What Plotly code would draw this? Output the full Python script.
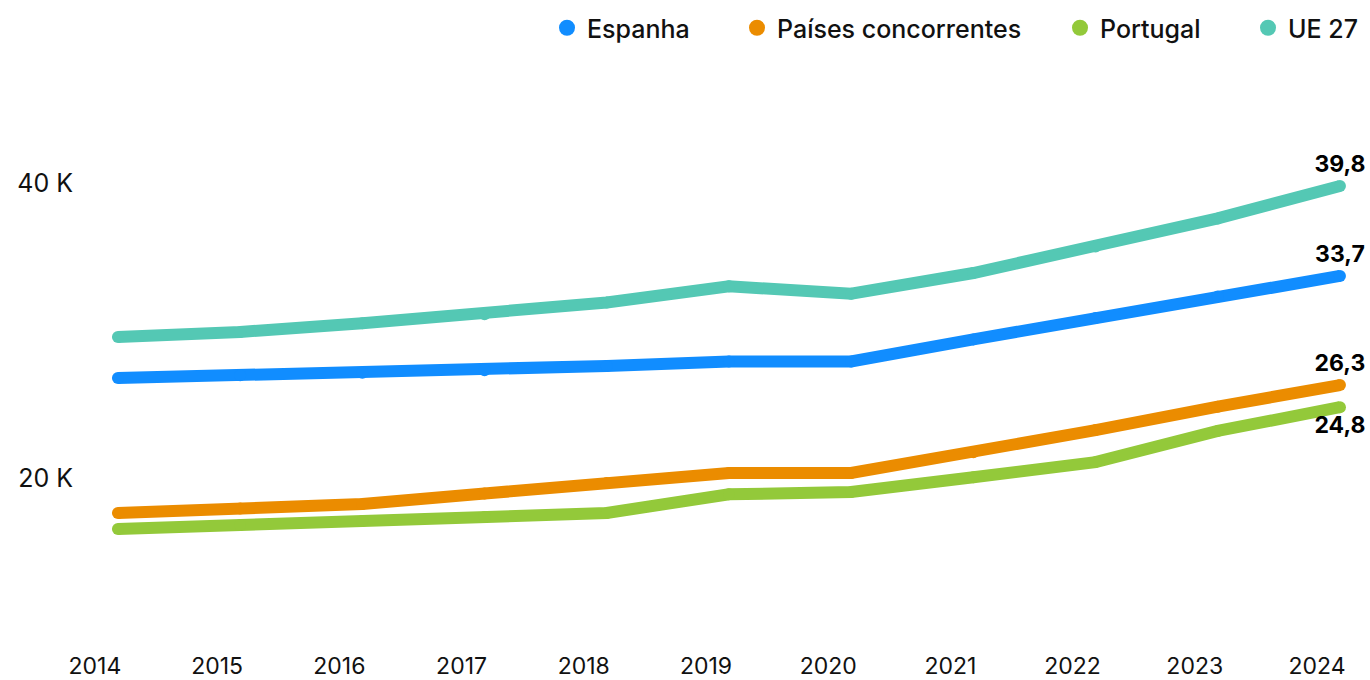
import plotly.graph_objects as go

years = [2014, 2015, 2016, 2017, 2018, 2019, 2020, 2021, 2022, 2023, 2024]

espanha = [26.78, 26.96, 27.14, 27.3, 27.6, 27.9, 27.9, 29.4, 30.85, 32.3, 33.7]
paises = [17.63, 17.93, 18.24, 18.95, 19.67, 20.34, 20.34, 21.74, 23.25, 24.84, 26.3]
portugal = [16.54, 16.81, 17.08, 17.36, 17.63, 18.9, 19.05, 20.05, 21.08, 23.19, 24.8]
ue27 = [29.56, 29.9, 30.5, 31.1, 31.9, 33.0, 32.5, 33.9, 35.7, 37.6, 39.8]

series_names = ["Espanha", "Países concorrentes", "Portugal", "UE 27"]
series_values = [espanha, paises, portugal, ue27]
series_colors = ["#118DFF", "#EB8C00", "#93C93A", "#54C8B4"]
label_positions = ["top center", "top center", "bottom center", "top center"]

y_tick_vals = [20, 40]
y_tick_text = ["20 K", "40 K"]

FONT = "Inter"
W, H = 1370, 680

fig = go.Figure()

for name, vals, col, pos in zip(series_names, series_values, series_colors, label_positions):
    texts = [""] * (len(vals) - 1) + [f"{vals[-1]:.1f}".replace(".", ",")]
    fig.add_trace(go.Scatter(
        x=years, y=vals, mode="lines+markers+text",
        line=dict(color=col, width=12),
        marker=dict(color=col, size=12),
        text=texts, textposition=pos,
        textfont=dict(family=FONT, size=23, color="#000000", weight=700),
        showlegend=False, hoverinfo="skip", cliponaxis=False,
    ))

# legend entries (dots), each in its own legend box
legend_ids = ["legend", "legend2", "legend3", "legend4"]
legend_left_px = [547, 737, 1060, 1248]
for name, col, lid in zip(series_names, series_colors, legend_ids):
    fig.add_trace(go.Scatter(
        x=[None], y=[None], mode="markers", name=name,
        marker=dict(color=col, size=20), legend=lid,
    ))

legend_common = dict(
    orientation="h", xref="container", yref="container",
    xanchor="left", y=1 - 28 / H, yanchor="middle",
    font=dict(family=FONT, size=25, color="#111111", weight=500),
    itemsizing="trace", bgcolor="rgba(0,0,0,0)", borderwidth=0,
)
legend_layout = {}
for lid, lx in zip(legend_ids, legend_left_px):
    legend_layout[lid] = dict(legend_common, x=lx / W)

fig.update_layout(
    width=W, height=H,
    margin=dict(l=100, r=10, t=60, b=40, autoexpand=False),
    paper_bgcolor="white", plot_bgcolor="white",
    font=dict(family=FONT, color="#111111"),
    showlegend=True,
    xaxis=dict(
        range=[2013.853, 2024.164], tickvals=years, ticktext=[str(y) for y in years],
        showgrid=False, zeroline=False, showline=False, ticks="",
        tickfont=dict(family=FONT, size=23, color="#111111"),
        ticklabelshift=-23, ticklabelstandoff=10, automargin=False,
    ),
    yaxis=dict(
        range=[9.02, 48.34], tickvals=y_tick_vals, ticktext=y_tick_text,
        showgrid=False, zeroline=False, showline=False, ticks="",
        tickfont=dict(family=FONT, size=25, color="#111111"),
        ticklabelstandoff=26, automargin=False,
    ),
    **legend_layout,
)

fig.write_html("out.html", config={"displayModeBar": False},
               post_script="document.body.style.margin='0';")
